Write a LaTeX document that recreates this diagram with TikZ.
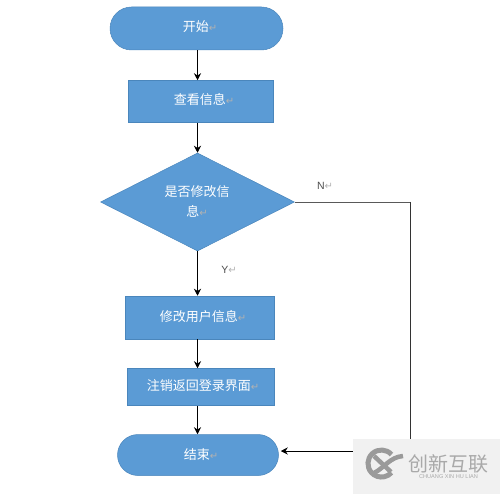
\documentclass[tikz,border=0pt]{standalone}
\usepackage{fontspec}
\setmainfont{Liberation Sans}
\newfontfamily\cjk{Noto Sans CJK SC}
\newfontfamily\sym{DejaVu Sans}
\usetikzlibrary{shapes.geometric,shapes.misc,arrows.meta}
\definecolor{fillblue}{HTML}{5B9BD5}
\definecolor{edgeblue}{HTML}{4A86BC}
\definecolor{wmbg}{HTML}{F1F1F1}
\definecolor{wmgray}{HTML}{9A9A9A}
\newcommand{\ret}{{\sym\fontsize{10}{10}\selectfont\textcolor{gray!60}{↵}}}
\tikzset{
  x=1pt,y=-1pt,
  flowtext/.style={text=white,font=\cjk\fontsize{13}{20}\selectfont,align=center},
  termbox/.style={rounded rectangle,draw=edgeblue,line width=.5pt,fill=fillblue,inner sep=0pt},
  procbox/.style={rectangle,draw=edgeblue,line width=.5pt,fill=fillblue,inner sep=0pt},
  decbox/.style={diamond,draw=edgeblue,line width=.5pt,fill=fillblue,inner sep=0pt},
  conn/.style={-{Stealth[length=7pt,width=7pt]},line width=.9pt,black},
  lab/.style={text=black!70,font=\fontsize{10.5}{12}\selectfont,inner sep=0pt},
}
\begin{document}
\begin{tikzpicture}
\useasboundingbox (0,0) rectangle (500,494);
\node[termbox,minimum width=173pt,minimum height=43pt] (start) at (196.5,28.5) {};
\node[procbox,minimum width=145pt,minimum height=42pt] (view) at (201,101.5) {};
\node[decbox,minimum width=194pt,minimum height=98pt] (dec) at (197.5,202) {};
\node[procbox,minimum width=149pt,minimum height=43pt] (edit) at (199.5,317.5) {};
\node[procbox,minimum width=147pt,minimum height=37pt] (logout) at (200.5,387) {};
\node[termbox,minimum width=161pt,minimum height=41pt] (end) at (198,455) {};
\node[flowtext,inner sep=0pt] (starttext) at (200,27) {开始\ret};
\node[flowtext,inner sep=0pt] (viewtext) at (204,100) {查看信息\ret};
\node[flowtext,inner sep=0pt] (dectext) at (197,201) {是否修改信\\息\ret};
\node[flowtext,inner sep=0pt] (edittext) at (203,316.5) {修改用户信息\ret};
\node[flowtext,inner sep=0pt] (logouttext) at (203,386) {注销返回登录界面\ret};
\node[flowtext,inner sep=0pt] (endtext) at (201,455) {结束\ret};
\draw[conn] (dec.north |- start.south) -- (dec.north |- view.north);
\draw[conn] (dec.north |- view.south) -- (dec.north);
\draw[conn] (dec.south) -- (dec.south |- edit.north);
\draw[conn] (dec.south |- edit.south) -- (dec.south |- logout.north);
\draw[conn] (dec.south |- logout.south) -- (dec.south |- end.north);
\coordinate (corner) at (410,202);
\coordinate (back) at (410,451);
\draw[line width=.9pt,black!65] (dec.east) -- (corner);
\draw[line width=.8pt,black!80] (corner) -- (back);
\draw[conn,shorten >=2pt] (back) -- (back -| end.east);
\node[lab] (n) at (325,186) {N\ret};
\node[lab] (y) at (229,270) {Y\ret};
% watermark
\fill[wmbg] (353,439) rectangle (500,494);
\draw[line width=5pt,wmgray] (391.5,454.5) arc[start angle=-42,end angle=-318,radius=13.5];
\draw[line width=4.5pt,wmgray] (374,456) -- (391,472);
\draw[line width=4.5pt,wmgray] (374,473) .. controls (384,468) and (390,457) .. (403,456);
\node[text=wmgray!85,font=\cjk\fontsize{20}{21}\selectfont,inner sep=0pt] (wm1) at (448.5,464) {创新互联};
\node[text=wmgray!85,font=\fontsize{5.6}{6}\selectfont,inner sep=0pt] (wm2) at (448.5,477) {CHUANG XIN HU LIAN};
\end{tikzpicture}
\end{document}
